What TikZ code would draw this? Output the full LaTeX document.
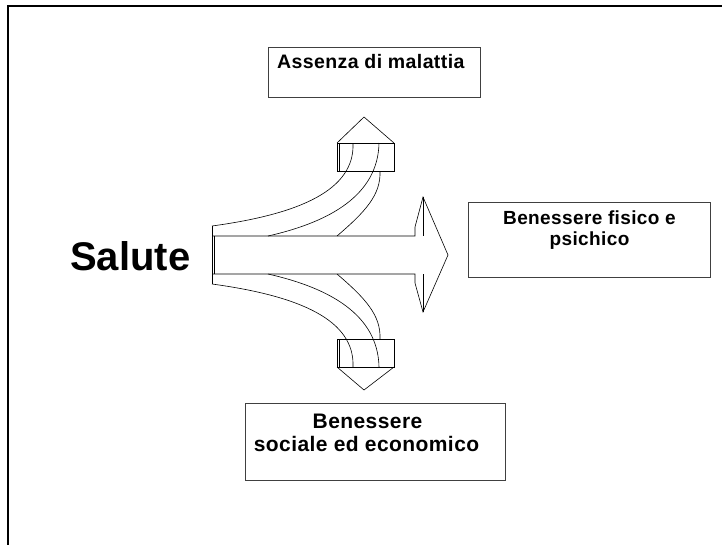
\documentclass[tikz,border=0pt]{standalone}
\usepackage{fontspec}
\setmainfont{Liberation Sans}
\newfontfamily\labfont{Liberation Sans}[LetterSpace=2]
\tikzset{
  frame/.style={line width=2.6pt, black},
  box/.style={draw=black!75, line width=0.9pt, fill=white, inner sep=0pt},
  lab/.style={inner sep=0pt},
  arr/.style={draw=black, line width=0.6pt, line join=miter},
}
\begin{document}
\begin{tikzpicture}[x=1pt,y=-1pt]
\useasboundingbox (0,0) rectangle (722,544);
\fill[white] (0,0) rectangle (722,544);
% frame
\draw[frame] (8,546) -- (8,6) -- (724,6);

% boxes
\node[box, minimum width=212pt, minimum height=50pt] (topbox) at (374,72) {};
\node[box, minimum width=242pt, minimum height=75pt] (rightbox) at (589,239.5) {};
\node[box, minimum width=260pt, minimum height=77pt] (botbox) at (375,441.5) {};

\node[lab, font=\labfont\bfseries\fontsize{19.5}{22}\selectfont, anchor=base west] (t1) at (277,68) {Assenza di malattia};
\node[lab, font=\labfont\bfseries\fontsize{19}{22}\selectfont, anchor=base] (r1) at (589.5,224) {Benessere fisico e};
\node[lab, font=\labfont\bfseries\fontsize{19}{22}\selectfont, anchor=base] (r2) at (589.5,245) {psichico};
\node[lab, font=\labfont\bfseries\fontsize{21}{24}\selectfont, anchor=base] (b1) at (367.5,428) {Benessere};
\node[lab, font=\labfont\bfseries\fontsize{21}{24}\selectfont, anchor=base] (b2) at (366.5,451) {sociale ed economico};

\node[inner sep=0pt, font=\bfseries\fontsize{40}{44}\selectfont, anchor=base west] (salute) at (70,270) {Salute};

% main arrow
\draw[arr] (212,226) -- (212,284);
\draw[arr] (214,236) -- (214,274);
\draw[arr] (212,236) -- (415,236) -- (415,227) -- (423,197) -- (448,255) -- (423,312) -- (415,283) -- (415,274) -- (212,274);
\draw[arr] (423,197) -- (423,236);
\draw[arr] (423,274) -- (423,312);

% upper curved arrow
\draw[arr] (337,143) rectangle (394,171);
\draw[arr] (339,143) -- (339,171);
\draw[arr] (337,143) -- (364,117) -- (394,143);
\draw[arr] (212,226) .. controls (300,214) and (355,190) .. (353,143);
\draw[arr] (268,236) .. controls (330,222) and (378,195) .. (379,143);
\draw[arr] (337,236) .. controls (365,212) and (381,195) .. (380,171);

% lower curved arrow
\draw[arr] (337,367) rectangle (394,339);
\draw[arr] (339,367) -- (339,339);
\draw[arr] (337,367) -- (364,390) -- (394,367);
\draw[arr] (212,284) .. controls (300,296) and (355,320) .. (353,367);
\draw[arr] (268,274) .. controls (330,288) and (378,315) .. (379,367);
\draw[arr] (337,274) .. controls (365,298) and (381,315) .. (380,339);
\end{tikzpicture}
\end{document}
